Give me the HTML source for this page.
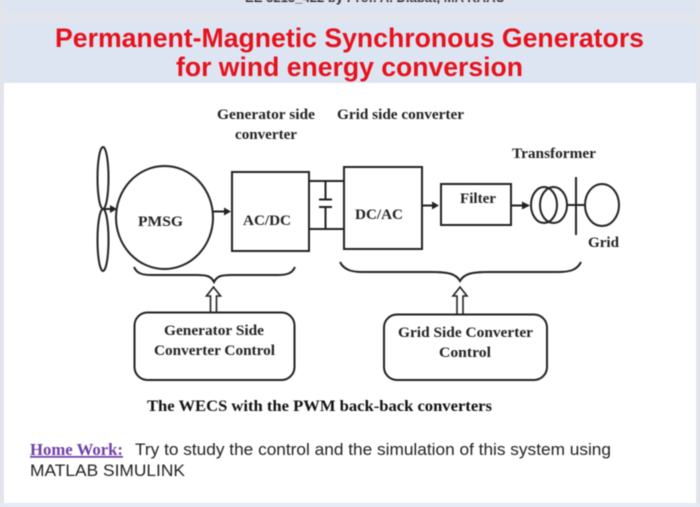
<!DOCTYPE html>
<html lang="en"><head><meta charset="utf-8"><title>Permanent-Magnetic Synchronous Generators</title>
<style>
html,body{margin:0;padding:0;width:700px;height:507px;overflow:hidden;background:#dfe1e8}
svg{display:block;filter:blur(.45px)}
.s{font-family:"Liberation Serif",serif;font-weight:bold;fill:#222;font-size:15px}
.r{font-family:"Liberation Sans",sans-serif;font-size:17px;fill:#222}
.t{font-family:"Liberation Sans",sans-serif;font-weight:bold;fill:#e6121c;font-size:27px}
.l{fill:none;stroke:#222;stroke-width:2}
</style></head><body>
<svg width="700" height="507" viewBox="0 0 700 507" xmlns="http://www.w3.org/2000/svg">
<rect width="700" height="507" fill="#e3e5ec"/>
<rect x="4" y="0" width="692" height="13" fill="#dde5f3"/>
<text x="245" y="2" textLength="260" lengthAdjust="spacingAndGlyphs" style="font:bold 12px 'Liberation Sans',sans-serif;fill:#222">EE 5215_422 by Prof. A. Diabat, MA KAAU</text>
<rect x="4" y="22" width="692" height="481" fill="#fff"/>
<rect x="4" y="22" width="692" height="61" fill="#dde5f3"/>
<rect x="0" y="503" width="700" height="4" fill="#e6e9f6"/>
<text class="t" x="55" y="47" textLength="589" lengthAdjust="spacingAndGlyphs">Permanent-Magnetic Synchronous Generators</text>
<text class="t" x="176" y="76" textLength="347" lengthAdjust="spacingAndGlyphs">for wind energy conversion</text>

<text class="s" x="217" y="119" textLength="98" lengthAdjust="spacingAndGlyphs">Generator side</text>
<text class="s" x="337" y="119" textLength="127" lengthAdjust="spacingAndGlyphs">Grid side converter</text>
<text class="s" x="235" y="139" textLength="62" lengthAdjust="spacingAndGlyphs">converter</text>
<text class="s" x="512" y="158" textLength="84" lengthAdjust="spacingAndGlyphs">Transformer</text>
<text class="s" x="138" y="226" textLength="45" lengthAdjust="spacingAndGlyphs">PMSG</text>
<text class="s" x="243" y="225" textLength="48" lengthAdjust="spacingAndGlyphs">AC/DC</text>
<text class="s" x="355" y="219" textLength="48" lengthAdjust="spacingAndGlyphs">DC/AC</text>
<text class="s" x="460" y="203" textLength="36" lengthAdjust="spacingAndGlyphs">Filter</text>
<text class="s" x="588" y="247" textLength="31" lengthAdjust="spacingAndGlyphs">Grid</text>

<ellipse class="l" cx="103" cy="178" rx="5.500" ry="31"/>
<ellipse class="l" cx="103" cy="240" rx="5.500" ry="31"/>
<ellipse class="l" cx="164.500" cy="217.500" rx="48.500" ry="51.500"/>
<path class="l" d="M103 209H112M213 211.500H225M422 205.500H433M511 205.500H523"/>
<path fill="#222" d="M110 205l7 4-7 4zM224 207.500l7 4-7 4zM432 201.500l7 4-7 4zM522 201.500l8 4-8 4z"/>
<rect class="l" x="232" y="172" width="77" height="79"/>
<rect class="l" x="344" y="167" width="78" height="82"/>
<rect class="l" x="441" y="184" width="70" height="41"/>
<path class="l" d="M309 181H344M309 229H344M325.500 181V199.500M325.500 207V229M319 199.500H332M319 207H332"/>
<ellipse class="l" cx="544" cy="205" rx="13" ry="18"/>
<ellipse class="l" cx="553.500" cy="205" rx="13.500" ry="18"/>
<path class="l" d="M567 205H585M576 177V235"/>
<ellipse class="l" cx="602" cy="205" rx="17" ry="21"/>

<path class="l" d="M134 267C137 274 143 275 152 275H196C207 275 211 276 214 282C217 276 221 275 232 275H277C286 275 292 274 295 267"/>
<path class="l" d="M340 262C344 270 352 272 362 272H432C449 272 456 274 460 281C464 274 471 272 488 272H558C570 272 577 270 581 262"/>

<path d="M210.500 312V296H206.500L213.500 287L220.500 296H216.500V312" fill="#fff" stroke="#222" stroke-width="1.600"/>
<path d="M457 314V296H453L460 287L467 296H463V314" fill="#fff" stroke="#222" stroke-width="1.600"/>

<rect class="l" x="134.500" y="312.500" width="160" height="67.500" rx="13"/>
<rect class="l" x="384" y="314.500" width="163" height="65.500" rx="13"/>
<text class="s" x="164" y="335" textLength="100" lengthAdjust="spacingAndGlyphs">Generator Side</text>
<text class="s" x="154" y="355" textLength="121" lengthAdjust="spacingAndGlyphs">Converter Control</text>
<text class="s" x="398" y="337" textLength="135" lengthAdjust="spacingAndGlyphs">Grid Side Converter</text>
<text class="s" x="439" y="357" textLength="52" lengthAdjust="spacingAndGlyphs">Control</text>
<text class="s" x="147" y="411" textLength="345" lengthAdjust="spacingAndGlyphs" style="fill:#111;font-size:16px">The WECS with the PWM back-back converters</text>

<text x="30" y="455" textLength="93" lengthAdjust="spacingAndGlyphs" style="font:bold 17px 'Liberation Serif',serif;fill:#6f3fa6;text-decoration:underline">Home Work:</text>
<text class="r" x="135" y="455" textLength="476" lengthAdjust="spacingAndGlyphs">Try to study the control and the simulation of this system using</text>
<text class="r" x="30" y="476" textLength="155" lengthAdjust="spacingAndGlyphs">MATLAB SIMULINK</text>
</svg>
</body></html>
